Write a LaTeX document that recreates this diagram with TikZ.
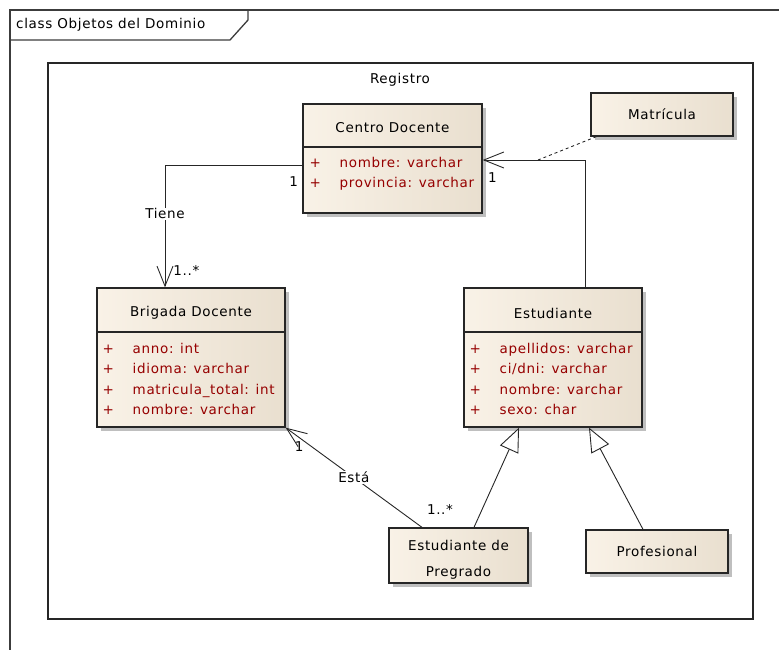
\documentclass[tikz,border=0pt]{standalone}
\usepackage{fontspec}
\setmainfont{DejaVu Sans}[LetterSpace=5.0]
\usetikzlibrary{arrows.meta,shadows,positioning}
\definecolor{boxl}{RGB}{249,242,231}
\definecolor{boxr}{RGB}{233,223,207}
\definecolor{attrred}{RGB}{150,0,0}
\definecolor{frameg}{RGB}{60,60,60}
\newcommand{\attrplus}{\makebox[30pt][l]{+}}

\begin{document}
\begin{tikzpicture}[x=1pt,y=-1pt,>={Straight Barb[length=20pt,width=16pt]},
    font=\fontsize{13.5}{16}\selectfont,
    classbox/.style={draw=black!85,line width=1.3pt,left color=boxl,right color=boxr,
      drop shadow={shadow xshift=4pt,shadow yshift=-4pt,fill=black!25,opacity=1},
      inner sep=0pt},
    cname/.style={inner sep=0pt,align=center,font=\fontsize{13.5}{24}\selectfont},
    attrs/.style={inner sep=0pt,anchor=west,align=left,text=attrred,
      font=\fontsize{13.5}{20.5}\selectfont},
    sep/.style={draw=black!85,line width=1.2pt},
    frame/.style={draw=frameg,line width=1.3pt},
    assoc/.style={draw=black!85,line width=0.9pt},
    gen/.style={assoc,-{Triangle[open,fill=white,length=24pt,width=20pt]}},
    lbl/.style={fill=white,inner sep=1pt},
    mult/.style={inner sep=1pt}]
    \useasboundingbox (0,0) rectangle (779,650);
    \draw[frame] (10,650) -- (10,10) -- (779,10);
    \draw[frame] (10,40) -- (230,40) -- (248,20) -- (248,10);
    \node[anchor=west,inner sep=0pt] (title) at (16,25) {class Objetos del Dominio};

    \node[draw=black!85,line width=1.4pt,minimum width=705,minimum height=556] (reg) at (400.5,341) {};
    \node (regn) at (400,80) {Registro};

    \node[classbox,minimum width=179,minimum height=109] (cd) at (392.5,158.5) {};
    \node[cname] (cdn) at (392.5,128) {Centro Docente};
    \draw[sep] (cd.west |- 0,147) -- (cd.east |- 0,147);
    \node[attrs] (cda) at (309.5,174) {\attrplus nombre:  varchar\\\attrplus provincia:  varchar};

    \node[classbox,minimum width=142,minimum height=43] (mat) at (662,114.5) {Matrícula};

    \node[classbox,minimum width=188,minimum height=139] (bd) at (191,357.5) {};
    \node[cname] (bdn) at (191,313) {Brigada Docente};
    \draw[sep] (bd.west |- 0,332) -- (bd.east |- 0,332);
    \node[attrs] (bda) at (102.5,379) {\attrplus anno:  int\\\attrplus idioma:  varchar\\\attrplus matricula\_total:  int\\\attrplus nombre:  varchar};

    \node[classbox,minimum width=178,minimum height=139] (est) at (553,357.5) {};
    \node[cname] (estn) at (553,313) {Estudiante};
    \draw[sep] (est.west |- 0,332) -- (est.east |- 0,332);
    \node[attrs] (esta) at (469.5,379) {\attrplus apellidos:  varchar\\\attrplus ci/dni:  varchar\\\attrplus nombre:  varchar\\\attrplus sexo:  char};

    \node[classbox,minimum width=139,minimum height=55] (pre) at (458.5,555.5) {};
    \node[cname] (pren) at (458.5,560) {Estudiante de\\[2pt]Pregrado};
    \node[classbox,minimum width=142,minimum height=43] (prof) at (657,551.5) {Profesional};

    \draw[assoc,->] (cd.west |- 0,165) node[mult,below left=10pt and 3pt] {1}
      -| ([xshift=-26pt]bd.north) node[lbl,pos=0.7] {Tiene} node[mult,pos=0.93,right=7pt] {1..*};
    \draw[assoc,->] ([xshift=32pt]est.north) node[mult,pos=0,above right=6pt and 3pt] {1..*}
      |- (cd.east |- 0,160) node[mult,below right=11pt and 4pt] {1};
    \coordinate (matj) at (538,160);
    \draw[assoc,dashed] ([xshift=6pt]mat.south west) -- (matj);
    \draw[assoc,->] ([xshift=-36.5pt]pre.north) -- (bd.south east)
      node[lbl,pos=0.5] {Está} node[mult,pos=0.9,below=3pt] {1};
    \node[mult] (premult) at (440,509) {1..*};
    \draw[gen] ([xshift=15.5pt]pre.north) -- ([xshift=-34pt]est.south);
    \draw[gen] ([xshift=-14pt]prof.north) -- ([xshift=36pt]est.south);
\end{tikzpicture}
\end{document}
